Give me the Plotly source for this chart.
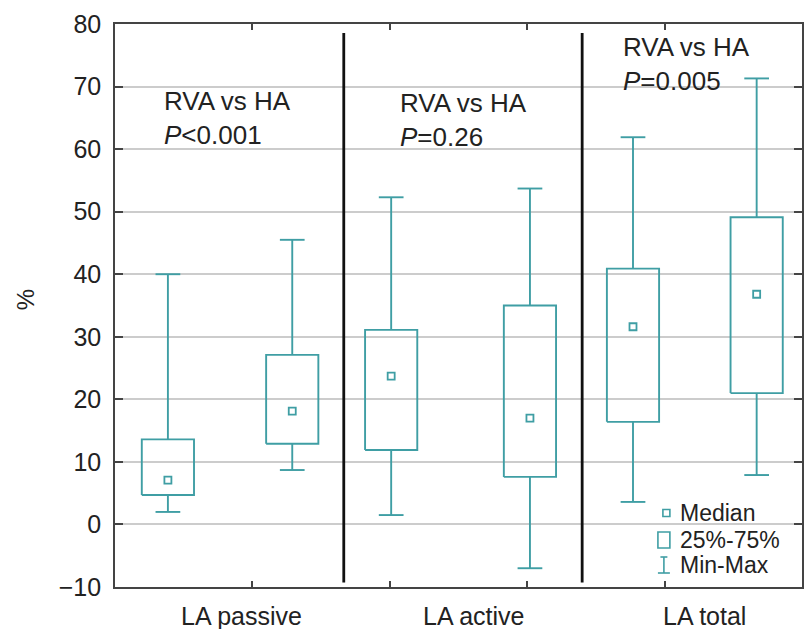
import plotly.graph_objects as go

# ---- data ----
categories = ["LA passive", "LA active", "LA total"]
p_texts = ["<i>P</i><0.001", "<i>P</i>=0.26", "<i>P</i>=0.005"]
mins = [2.0, 8.7, 1.5, -7.0, 3.6, 7.9]
q1s = [4.7, 12.9, 11.9, 7.6, 16.4, 21.0]
medians = [7.1, 18.1, 23.7, 17.0, 31.6, 36.8]
q3s = [13.6, 27.1, 31.1, 35.0, 40.9, 49.1]
maxs = [40.0, 45.5, 52.3, 53.7, 61.9, 71.3]
y_ticks = [-10, 0, 10, 20, 30, 40, 50, 60, 70, 80]

# ---- layout constants ----
box_pos = [0.385, 1.29, 2.01, 3.02, 3.77, 4.67]
cat_label_pos = [0.92, 2.61, 4.29]
separators = [1.665, 3.40]
ann_pos = [(0.34, 65.0), (2.06, 64.6), (3.68, 73.6)]
half_w = 0.19
cap_w = 0.09
TEAL = "#3f9ea4"
TXT = "#222222"
FONT = "Liberation Sans, Arial, sans-serif"

L, R, T, B = 115, 6, 24, 42
W, H = 810, 629
PW, PH = W - L - R, H - T - B


def px(xp):
    return (xp - L) / PW


def py(yp):
    return (H - B - yp) / PH


xs, ys = [], []
for x, lo, a, b, hi in zip(box_pos, mins, q1s, q3s, maxs):
    xs += [x - half_w, x + half_w, x + half_w, x - half_w, x - half_w, None]
    ys += [a, a, b, b, a, None]
    xs += [x, x, None, x - cap_w, x + cap_w, None]
    ys += [b, hi, None, hi, hi, None]
    xs += [x, x, None, x - cap_w, x + cap_w, None]
    ys += [a, lo, None, lo, lo, None]

fig = go.Figure()
fig.add_trace(go.Scatter(x=xs, y=ys, mode="lines",
                         line=dict(color=TEAL, width=1.9),
                         hoverinfo="skip", showlegend=False))
fig.add_trace(go.Scatter(x=box_pos, y=medians, mode="markers",
                         marker=dict(symbol="square-open", size=7, color=TEAL,
                                     line=dict(width=1.8, color=TEAL)),
                         showlegend=False, name="Median"))

shapes = []
for s in separators:
    shapes.append(dict(type="line", xref="x", yref="paper", x0=s, x1=s,
                       y0=0.008, y1=0.984, line=dict(color="#111111", width=2.8)))

# legend keys
shapes.append(dict(type="rect", xref="paper", yref="paper",
                   x0=px(664.5), x1=px(671.5), y0=py(516.5), y1=py(509.5),
                   line=dict(color=TEAL, width=1.6)))
shapes.append(dict(type="rect", xref="paper", yref="paper",
                   x0=px(659.5), x1=px(671.5), y0=py(548), y1=py(532),
                   line=dict(color=TEAL, width=1.6)))
shapes.append(dict(type="line", xref="paper", yref="paper",
                   x0=px(665.5), x1=px(665.5), y0=py(573), y1=py(557),
                   line=dict(color=TEAL, width=1.6)))
shapes.append(dict(type="line", xref="paper", yref="paper",
                   x0=px(659.5), x1=px(671.5), y0=py(573), y1=py(573),
                   line=dict(color=TEAL, width=1.6)))
shapes.append(dict(type="line", xref="paper", yref="paper",
                   x0=px(662), x1=px(669), y0=py(557), y1=py(557),
                   line=dict(color=TEAL, width=1.6)))

annotations = []
for (ax, ay), pt in zip(ann_pos, p_texts):
    annotations.append(dict(x=ax, y=ay, xref="x", yref="y", xanchor="left",
                            yanchor="middle", align="left", showarrow=False,
                            text="RVA vs HA<br>" + pt,
                            font=dict(size=26, color=TXT, family=FONT)))
for cx, c in zip(cat_label_pos, categories):
    annotations.append(dict(x=cx, y=0, xref="x", yref="paper", yanchor="top",
                            yshift=-13, showarrow=False, text=c,
                            font=dict(size=25, color=TXT, family=FONT)))
for yy, t in zip([513, 540, 565], ["Median", "25%-75%", "Min-Max"]):
    annotations.append(dict(x=px(680), y=py(yy), xref="paper", yref="paper",
                            xanchor="left", yanchor="middle", showarrow=False,
                            text=t, font=dict(size=23, color=TXT, family=FONT)))
# y-axis title
annotations.append(dict(x=px(25), y=py(300), xref="paper", yref="paper",
                        xanchor="center", yanchor="middle", showarrow=False,
                        text="%", textangle=-90,
                        font=dict(size=24, color=TXT, family=FONT)))

fig.update_layout(
    width=W, height=H,
    margin=dict(l=L, r=R, t=T, b=B),
    paper_bgcolor="white", plot_bgcolor="white",
    font=dict(family=FONT, color=TXT),
    shapes=shapes, annotations=annotations,
    xaxis=dict(range=[0, 5], tickvals=[1, 2, 3, 4], ticktext=["", "", "", ""],
               ticks="inside", ticklen=6, tickcolor="#444", tickwidth=1.5,
               showgrid=False, zeroline=False, showline=True, linecolor="#444",
               linewidth=1.6, mirror="ticks", fixedrange=True),
    yaxis=dict(range=[-10, 80], tickvals=y_ticks,
               ticks="inside", ticklen=8, tickcolor="#444", tickwidth=1.5,
               showgrid=True, gridcolor="#cccccc", gridwidth=1.5,
               zeroline=False, showline=True, linecolor="#444", linewidth=1.6,
               mirror="ticks", tickfont=dict(size=25, color=TXT, family=FONT),
               ticklabelstandoff=7, fixedrange=True),
)

fig.write_html("out.html")
